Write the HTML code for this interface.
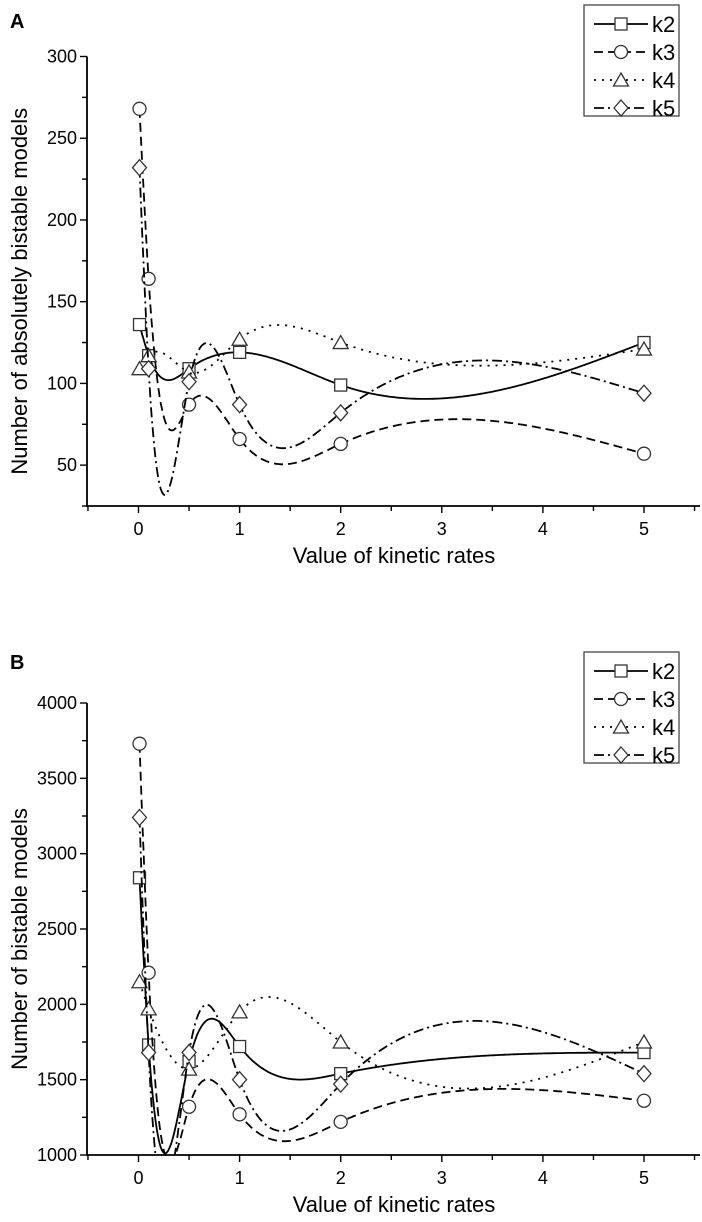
<!DOCTYPE html>
<html><head><meta charset="utf-8">
<style>
html,body{margin:0;padding:0;background:#fff;}
svg{display:block;font-family:"Liberation Sans",sans-serif;}
</style></head>
<body>
<svg id="svg" width="702" height="1222" viewBox="0 0 702 1222"></svg>
<script>
const xCats = [0.01, 0.1, 0.5, 1, 2, 5];
const xTicks = [0, 1, 2, 3, 4, 5];
const seriesNames = ["k2", "k3", "k4", "k5"];
const aK2 = [136, 117, 109, 119, 99, 125];
const aK3 = [268, 164, 87, 66, 63, 57];
const aK4 = [109, 117, 107, 127, 125, 121];
const aK5 = [232, 109, 101, 87, 82, 94];
const aYTicks = [50, 100, 150, 200, 250, 300];
const bK2 = [2840, 1730, 1620, 1720, 1540, 1680];
const bK3 = [3730, 2210, 1320, 1270, 1220, 1360];
const bK4 = [2150, 1970, 1570, 1950, 1750, 1750];
const bK5 = [3240, 1680, 1680, 1500, 1470, 1540];
const bYTicks = [1000, 1500, 2000, 2500, 3000, 3500, 4000];

const NS = "http://www.w3.org/2000/svg";
const svg = document.getElementById("svg");
function mk(tag, attrs, parent){const e=document.createElementNS(NS,tag);for(const k in attrs)e.setAttribute(k,attrs[k]);(parent||svg).appendChild(e);return e;}

const dashes = ["", "9,5", "2,6", "10,4,2,4"];
const markers = ["square","circle","triangle","diamond"];

function spline(xs, ys){
  const n=xs.length, h=[], al=[], l=[1], mu=[0], z=[0], c=new Array(n).fill(0), b=[], d=[];
  for(let i=0;i<n-1;i++)h.push(xs[i+1]-xs[i]);
  for(let i=1;i<n-1;i++)al[i]=3/h[i]*(ys[i+1]-ys[i])-3/h[i-1]*(ys[i]-ys[i-1]);
  for(let i=1;i<n-1;i++){l[i]=2*(xs[i+1]-xs[i-1])-h[i-1]*mu[i-1];mu[i]=h[i]/l[i];z[i]=(al[i]-h[i-1]*z[i-1])/l[i];}
  for(let j=n-2;j>=0;j--){
    if(j>0)c[j]=z[j]-mu[j]*c[j+1];
    b[j]=(ys[j+1]-ys[j])/h[j]-h[j]*(c[j+1]+2*c[j])/3;d[j]=(c[j+1]-c[j])/(3*h[j]);}
  return function(x){let i=0;while(i<n-2&&x>xs[i+1])i++;const t=x-xs[i];return ys[i]+b[i]*t+c[i]*t*t+d[i]*t*t*t;};
}

function marker(type, cx, cy, g){
  let e;
  if(type==="square") e=mk("rect",{x:cx-6,y:cy-6,width:12,height:12},g);
  else if(type==="circle") e=mk("circle",{cx:cx,cy:cy,r:6.5},g);
  else if(type==="triangle") e=mk("polygon",{points:`${cx},${cy-7} ${cx+7.5},${cy+6} ${cx-7.5},${cy+6}`},g);
  else e=mk("polygon",{points:`${cx},${cy-8} ${cx+7},${cy} ${cx},${cy+8} ${cx-7},${cy}`},g);
  e.setAttribute("fill","#fff");e.setAttribute("stroke","#333");e.setAttribute("stroke-width","1.3");
  return e;
}

function chart(id, o){
  const g=mk("g",{});
  
  
  const X=v=>o.x0+(v-0)*(o.x5-o.x0)/5;
  const Y=v=>o.yBot-(v-o.ymin)*(o.yBot-o.yTop)/(o.ymax-o.ymin);
  const clipId=id+"-clip";
  const cp=mk("clipPath",{id:clipId},g);mk("rect",{x:o.axL,y:o.yTop-20,width:700-o.axL,height:o.yBot-o.yTop+20},cp);
  const L=mk("text",{x:10,y:o.letterY,"font-size":20,"font-weight":"bold"},g);L.textContent=o.letter;
  
  const ax=mk("path",{d:`M${o.axL},${o.yTop} V${o.yBot} H700`,stroke:"#000","stroke-width":1.8,fill:"none"},g);
  
  for(let v=-0.5;v<=5.5;v+=0.5){const x=X(v);mk("line",{x1:x,x2:x,y1:o.yBot,y2:o.yBot+(Number.isInteger(v)?7:5),stroke:"#000","stroke-width":1.4},g);}
  xTicks.forEach(v=>{const t=mk("text",{x:X(v),y:o.yBot+29,"text-anchor":"middle","font-size":18},g);t.textContent=v;
    });
  const step=o.yticks[1]-o.yticks[0];
  for(let v=o.yticks[0]-step/2;v<=o.ymax+0.1;v+=step/2){if(v<o.ymin-0.1)continue;const y=Y(v);const maj=o.yticks.includes(v);
    mk("line",{x1:o.axL-(maj?7:5),x2:o.axL,y1:y,y2:y,stroke:"#000","stroke-width":1.4},g);}
  o.yticks.forEach(v=>{const t=mk("text",{x:o.axL-10,y:Y(v)+6,"text-anchor":"end","font-size":18},g);t.textContent=v;
    });
  const xt=mk("text",{x:394,y:o.yBot+57,"text-anchor":"middle","font-size":22},g);xt.textContent="Value of kinetic rates";
  
  const ycy=(o.yTop+o.yBot)/2+10;
  const yt=mk("text",{x:0,y:0,"text-anchor":"middle","font-size":22,transform:`translate(27,${ycy}) rotate(-90)`},g);yt.textContent=o.ytitle;
  
  o.series.forEach((ys,si)=>{
    const sg=mk("g",{},g);
    
    const f=spline(xCats,ys);let d="";
    for(let x=xCats[0];x<=5.0001;x+=0.01){d+=(d?"L":"M")+X(x).toFixed(1)+","+Y(f(x)).toFixed(1);}
    const p=mk("path",{d:d,fill:"none",stroke:"#000","stroke-width":1.8,"clip-path":`url(#${clipId})`},sg);
    if(dashes[si])p.setAttribute("stroke-dasharray",dashes[si]);
    
    xCats.forEach((x,i)=>{const m=marker(markers[si],X(x),Y(ys[i]),sg);
      });
  });
  const lg=mk("g",{},g);
  mk("rect",{x:584,y:o.legTop,width:95,height:111,fill:"#fff",stroke:"#444","stroke-width":1.3},lg);
  seriesNames.forEach((n,si)=>{const y=o.legTop+19+si*28;
    const e=mk("g",{},lg);
    const ln=mk("line",{x1:594,x2:648,y1:y,y2:y,stroke:"#000","stroke-width":1.8},e);
    if(dashes[si])ln.setAttribute("stroke-dasharray",dashes[si]);
    marker(markers[si],621,y,e);
    const t=mk("text",{x:652,y:y+8,"font-size":22},e);t.textContent=n;});
}

chart("chart-a",{letter:"A",letterY:28,axL:87,x0:138.5,x5:644,yTop:56.5,yBot:506,ymin:25,ymax:300,yticks:aYTicks,
  ytitle:"Number of absolutely bistable models",series:[aK2,aK3,aK4,aK5],legTop:5});
chart("chart-b",{letter:"B",letterY:669,axL:87,x0:138.5,x5:644,yTop:703,yBot:1155,ymin:1000,ymax:4000,yticks:bYTicks,
  ytitle:"Number of bistable models",series:[bK2,bK3,bK4,bK5],legTop:652});
</script>
</body></html>
